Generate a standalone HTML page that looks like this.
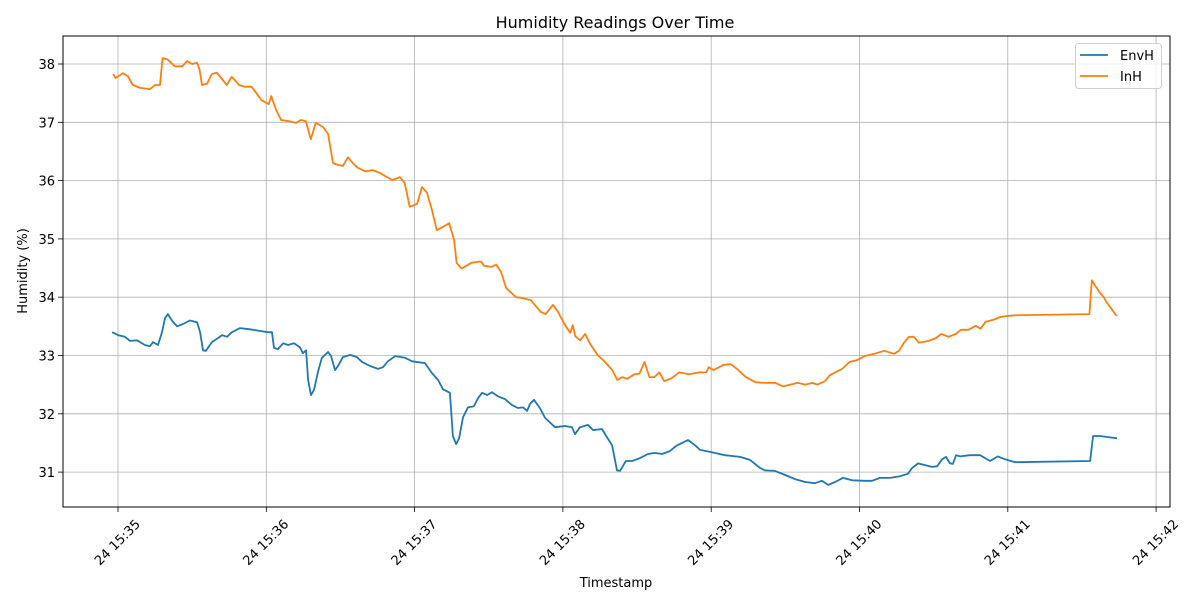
<!DOCTYPE html>
<html><head><meta charset="utf-8"><title>Humidity Readings Over Time</title>
<style>body{margin:0;background:#fff}svg{display:block;font-family:"DejaVu Sans","Liberation Sans",sans-serif}</style>
</head><body>
<svg id="chart" width="1200" height="600" viewBox="0 0 1200 600" xmlns="http://www.w3.org/2000/svg"></svg>
<script>
// seconds from 15:35:00
const envT=[-2.4,0,2.8,4.9,7.7,10.9,12.9,14.2,16.2,17.8,19.0,20.2,21.8,23.9,26.3,29.1,32.0,33.2,34.4,35.6,38.0,40.5,42.1,44.1,46.1,49.4,53.4,57.5,60.7,62.3,63.1,64.7,66.8,68.8,71.2,73.6,74.8,76.1,76.9,78.1,79.3,80.9,82.5,85.0,86.2,87.8,89.0,91.0,93.9,96.7,98.7,102.0,105.2,107.2,109.2,112.1,116.1,119.0,124.2,127.0,129.5,131.5,134.3,135.5,136.8,138.0,139.6,141.6,144.0,145.7,147.3,149.3,151.3,153.7,156.6,159.4,161.8,163.9,165.5,166.7,168.3,170.7,172.8,176.8,180.9,183.7,184.9,186.9,190.2,192.2,195.8,197.8,199.9,201.9,203.1,205.5,208.0,211.2,214.4,217.3,220.1,223.3,225.8,228.2,230.6,233.5,235.5,240.3,245.6,251.7,255.7,259.8,261.8,265.8,269.9,273.9,278.0,282.0,284.8,287.3,290.1,293.3,297.0,302.2,305.1,308.3,312.4,316.4,319.6,321.3,323.7,326.5,329.3,331.4,333.4,335.0,336.6,337.8,339.1,340.7,344.7,348.8,350.8,352.8,356.0,358.9,362.9,393.3,394.5,397.3,400.6,404.2];
const envH=[33.40,33.35,33.32,33.25,33.26,33.18,33.16,33.23,33.18,33.40,33.64,33.71,33.60,33.50,33.54,33.60,33.57,33.40,33.09,33.08,33.23,33.30,33.35,33.32,33.40,33.47,33.45,33.42,33.40,33.40,33.13,33.11,33.21,33.18,33.21,33.14,33.04,33.09,32.58,32.32,32.41,32.72,32.96,33.06,32.99,32.75,32.82,32.97,33.01,32.97,32.89,32.82,32.77,32.80,32.90,32.99,32.96,32.90,32.87,32.70,32.58,32.42,32.36,31.62,31.48,31.58,31.94,32.11,32.13,32.27,32.36,32.32,32.37,32.30,32.25,32.15,32.10,32.11,32.05,32.17,32.24,32.10,31.93,31.77,31.79,31.77,31.65,31.77,31.81,31.72,31.74,31.60,31.46,31.03,31.02,31.19,31.19,31.24,31.31,31.33,31.31,31.36,31.45,31.50,31.55,31.46,31.38,31.34,31.29,31.26,31.21,31.07,31.03,31.02,30.95,30.88,30.83,30.81,30.85,30.78,30.83,30.90,30.86,30.85,30.85,30.90,30.90,30.93,30.97,31.07,31.15,31.12,31.09,31.10,31.22,31.26,31.15,31.14,31.29,31.27,31.29,31.29,31.24,31.19,31.27,31.22,31.17,31.19,31.62,31.62,31.60,31.58];
const inT=[-2,-1,2,4,6,9,13,15,17,18,20,23,26,28,30,32,33,34,36,38,40,44,46,49,51,54,56,58,61,62,64,66,69,72,74,76,78,80,83,85,87,89,91,93,95,97,100,103,106,108,111,114,116,118,121,123,125,127,129,132,134,136,137,139,141,143,146,147,148,151,153,155,157,158,161,163,167,169,171,173,176,178,181,183,184,185,187,189,191,194,197,200,202,204,206,209,211,213,215,217,219,221,224,227,231,235,238,239,241,245,248,251,254,258,262,266,269,272,275,278,281,283,286,288,291,293,296,299,302,306,310,314,316,318,320,322,324,328,331,333,336,339,341,344,347,349,351,354,357,360,363,393,394,397,399,400,404];
const inH=[37.83,37.76,37.84,37.79,37.64,37.59,37.57,37.64,37.64,38.10,38.08,37.96,37.96,38.05,38.00,38.02,37.90,37.64,37.66,37.83,37.85,37.64,37.78,37.64,37.61,37.61,37.50,37.38,37.31,37.45,37.21,37.04,37.02,36.99,37.04,37.02,36.71,36.99,36.92,36.80,36.30,36.27,36.25,36.40,36.30,36.22,36.16,36.18,36.13,36.08,36.01,36.06,35.96,35.55,35.60,35.89,35.79,35.50,35.15,35.22,35.27,34.98,34.59,34.49,34.54,34.59,34.61,34.61,34.54,34.52,34.56,34.43,34.16,34.12,34.00,33.99,33.95,33.85,33.75,33.71,33.87,33.75,33.51,33.39,33.52,33.33,33.26,33.37,33.20,33.01,32.89,32.75,32.58,32.63,32.60,32.68,32.69,32.89,32.63,32.63,32.71,32.56,32.61,32.71,32.68,32.71,32.71,32.80,32.75,32.84,32.85,32.75,32.63,32.54,32.53,32.53,32.47,32.50,32.53,32.50,32.53,32.50,32.56,32.66,32.73,32.77,32.89,32.92,32.99,33.03,33.08,33.03,33.08,33.22,33.32,33.32,33.22,33.25,33.30,33.37,33.32,33.37,33.44,33.44,33.51,33.46,33.58,33.61,33.66,33.68,33.69,33.71,34.29,34.09,33.99,33.91,33.68];
const xTickMin=[0,1,2,3,4,5,6,7];
const xTickLabels=["24 15:35","24 15:36","24 15:37","24 15:38","24 15:39","24 15:40","24 15:41","24 15:42"];
const yTicks=[31,32,33,34,35,36,37,38];

const L=63,R=1170,T=36,B=507;
const xs=s=>118+s*148.3/60;
const ys=v=>64+(38-v)*58.3;
const svg=document.getElementById('chart');
const NS='http://www.w3.org/2000/svg';
function mk(tag,attrs,parent){const e=document.createElementNS(NS,tag);for(const k in attrs)e.setAttribute(k,attrs[k]);(parent||svg).appendChild(e);return e;}

const grid=mk('g',{});


xTickMin.forEach((m,i)=>{
  const x=xs(m*60);
  const gl=mk('line',{x1:x,x2:x,y1:T,y2:B,stroke:'#b0b0b0','stroke-width':0.8},grid);
  
  
  const tk=mk('line',{x1:x,x2:x,y1:B,y2:B+5,stroke:'#000','stroke-width':0.8});
  
  
  const t=mk('text',{x:0,y:0,'font-size':13,'text-anchor':'middle','dominant-baseline':'central',transform:`translate(${x},${B+36}) rotate(-45)`});
  t.textContent=xTickLabels[i];
  
  
});
yTicks.forEach(v=>{
  const y=ys(v);
  const gl=mk('line',{x1:L,x2:R,y1:y,y2:y,stroke:'#b0b0b0','stroke-width':0.8},grid);
  
  
  const tk=mk('line',{x1:L-5,x2:L,y1:y,y2:y,stroke:'#000','stroke-width':0.8});
  
  
  const t=mk('text',{x:L-8,y:y+5,'font-size':13,'text-anchor':'end'});
  t.textContent=String(v);
  
  
});
function line(T_,V,color,name){
  const d=T_.map((t,i)=>(i?'L':'M')+xs(t).toFixed(1)+','+ys(V[i]).toFixed(1)).join(' ');
  const p=mk('path',{d,fill:'none',stroke:color,'stroke-width':1.8,'stroke-linejoin':'round'});
  
  
}
line(envT,envH,'#1f77b4','envh-line');
line(inT,inH,'#ff7f0e','inh-line');
const frame=mk('rect',{x:L,y:T,width:R-L,height:B-T,fill:'none',stroke:'#000','stroke-width':1});



const title=mk('text',{x:615,y:28,'font-size':16,'text-anchor':'middle'});
title.textContent='Humidity Readings Over Time';


const xl=mk('text',{x:616,y:587,'font-size':13,'text-anchor':'middle'});
xl.textContent='Timestamp';


const yl=mk('text',{x:0,y:0,'font-size':13,'text-anchor':'middle',transform:'translate(27,271) rotate(-90)'});
yl.textContent='Humidity (%)';



const lg=mk('g',{});


mk('rect',{x:1075.5,y:43.5,width:86,height:45,rx:3,fill:'#fff','fill-opacity':0.8,stroke:'#d0d0d0'},lg);
[['EnvH','#1f77b4',55],['InH','#ff7f0e',76]].forEach(([n,c,y])=>{
  const e=mk('g',{},lg);
  
  
  mk('line',{x1:1080,x2:1108,y1:y,y2:y,stroke:c,'stroke-width':1.8},e);
  const t=mk('text',{x:1120,y:y+5,'font-size':13},e);
  t.textContent=n;
});
</script>
</body></html>
